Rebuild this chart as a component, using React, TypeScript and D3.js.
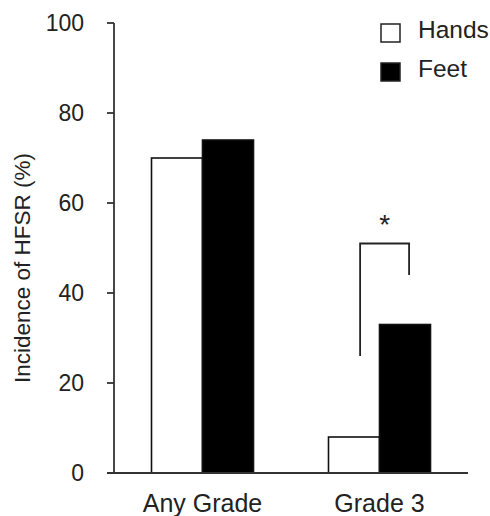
import React from 'react';
import * as d3 from 'd3';

// categories and series
const groups = ['Any Grade', 'Grade 3'];
const series = ['Hands', 'Feet'];
const hands = [70, 8];
const feet = [74, 33];
const yTicks = [0, 20, 40, 60, 80, 100];
// significance bracket for Grade 3 (in data units)
const bracketTop = 51;
const bracketLeftEnd = 26;
const bracketRightEnd = 44;

const W = 490, H = 516;
const font = 'Liberation Sans, Arial, sans-serif';
const ink = '#222';

const App = () => {
  const y = d3.scaleLinear().domain([0, 100]).range([473, 23]);
  const x = d3.scalePoint<string>().domain(groups).range([114, 468]).padding(0.5);
  const inner = d3.scaleBand<string>().domain(series).range([-51, 51]).padding(0);
  const fills: Record<string, string> = { Hands: '#fff', Feet: '#000' };
  const vals: Record<string, number[]> = { Hands: hands, Feet: feet };

  const g3 = x('Grade 3') as number;
  const bl = g3 + (inner('Hands') as number) + inner.bandwidth() * 0.62;
  const br = g3 + (inner('Feet') as number) + inner.bandwidth() * 0.58;

  return (
    <svg width={W} height={H} style={{ position: 'absolute', left: 0, top: 0, background: '#fff' }}>
      {/* y axis */}
      <line x1={114} x2={114} y1={y(100)} y2={y(0)} stroke="#333" strokeWidth={1.8} />
      {yTicks.map(t => (
        <g key={t}>
          <line x1={107} x2={114} y1={y(t)} y2={y(t)} stroke="#333" strokeWidth={1.8} />
          <text x={84} y={y(t)} dy="0.36em" textAnchor="end" fontFamily={font} fontSize={23} fill={ink}>{t}</text>
        </g>
      ))}
      <text transform={`translate(30,${(y(0) + y(100)) / 2 + 20}) rotate(-90)`} textAnchor="middle" fontFamily={font} fontSize={22.5} fill={ink}>
        Incidence of HFSR (%)
      </text>

      {/* bars */}
      {groups.map((grp, i) => (
        <g key={grp}>
          {series.map(s => (
            <rect key={s}
              x={(x(grp) as number) + (inner(s) as number)}
              y={y(vals[s][i])}
              width={inner.bandwidth()}
              height={y(0) - y(vals[s][i])}
              fill={fills[s]} stroke="#111" strokeWidth={1.6} />
          ))}
          <text x={x(grp)} y={512} textAnchor="middle" fontFamily={font} fontSize={25} fill={ink}>{grp}</text>
        </g>
      ))}

      {/* x axis */}
      <line x1={107} x2={468} y1={y(0)} y2={y(0)} stroke="#333" strokeWidth={1.8} />

      {/* significance bracket */}
      <path d={`M${bl},${y(bracketLeftEnd)}V${y(bracketTop)}H${br}V${y(bracketRightEnd)}`}
        fill="none" stroke="#222" strokeWidth={1.8} />
      <text x={(bl + br) / 2} y={y(bracketTop) - 10} textAnchor="middle" fontFamily={font} fontSize={28} fill={ink}>*</text>

      {/* legend */}
      {series.map((s, i) => (
        <g key={s} transform={`translate(381,${24 + i * 39})`}>
          <rect x={0} y={0} width={19} height={18} fill={fills[s]} stroke="#222" strokeWidth={1.5} />
          <text x={37} y={14} fontFamily={font} fontSize={24.5} fill={ink}>{s}</text>
        </g>
      ))}
    </svg>
  );
};

export default App;
